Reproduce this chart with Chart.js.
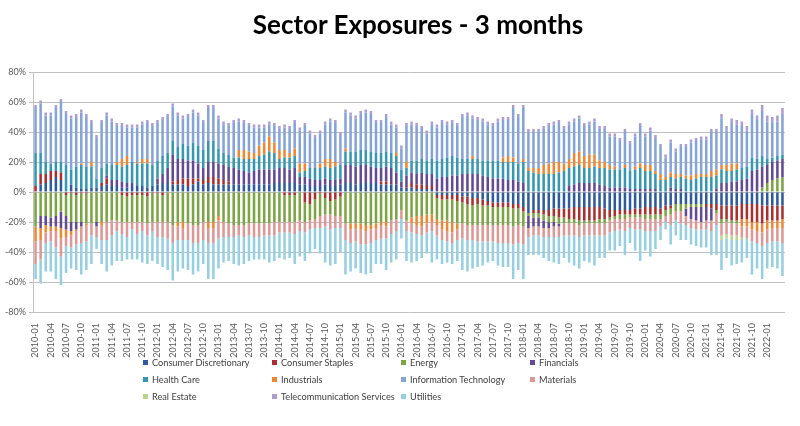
<!DOCTYPE html>
<html>
<head>
<meta charset="utf-8">
<script src="https://cdn.jsdelivr.net/npm/chart.js@4.4.1/dist/chart.umd.min.js"></script>
<style>
  html, body { margin: 0; padding: 0; background: #ffffff; }
  #wrap { position: relative; width: 800px; height: 426px; overflow: hidden; }
  #title { position: absolute; left: 0; top: 8px; width: 836px; text-align: center;
           font: bold 26px Lato, "Open Sans", sans-serif; color: #000; }
  #legend { position: absolute; left: 143px; top: 354px; display: grid;
            grid-template-columns: 129px 129px 129px 129px; grid-auto-rows: 17px;
            font: 9.2px Lato, "Open Sans", sans-serif; color: #404040; }
  .item { display: flex; align-items: center; white-space: nowrap; }
  .sw { width: 5px; height: 5px; margin-right: 4px; flex: none; }
  canvas { position: absolute; left: 0; top: 0; }
</style>
</head>
<body>
<div id="wrap">
  <canvas id="c" width="800" height="426"></canvas>
  <div id="title">Sector Exposures - 3 months</div>
  <div id="legend"></div>
</div>
<script>
// ---------- categories (months) ----------
const months = [
'2010-01','2010-02','2010-03','2010-04','2010-05','2010-06','2010-07','2010-08','2010-09','2010-10','2010-11','2010-12',
'2011-01','2011-02','2011-03','2011-04','2011-05','2011-06','2011-07','2011-08','2011-09','2011-10','2011-11','2011-12',
'2012-01','2012-02','2012-03','2012-04','2012-05','2012-06','2012-07','2012-08','2012-09','2012-10','2012-11','2012-12',
'2013-01','2013-02','2013-03','2013-04','2013-05','2013-06','2013-07','2013-08','2013-09','2013-10','2013-11','2013-12',
'2014-01','2014-02','2014-03','2014-04','2014-05','2014-06','2014-07','2014-08','2014-09','2014-10','2014-11','2014-12',
'2015-01','2015-02','2015-03','2015-04','2015-05','2015-06','2015-07','2015-08','2015-09','2015-10','2015-11','2015-12',
'2016-01','2016-02','2016-03','2016-04','2016-05','2016-06','2016-07','2016-08','2016-09','2016-10','2016-11','2016-12',
'2017-01','2017-02','2017-03','2017-04','2017-05','2017-06','2017-07','2017-08','2017-09','2017-10','2017-11','2017-12',
'2018-01','2018-02','2018-03','2018-04','2018-05','2018-06','2018-07','2018-08','2018-09','2018-10','2018-11','2018-12',
'2019-01','2019-02','2019-03','2019-04','2019-05','2019-06','2019-07','2019-08','2019-09','2019-10','2019-11','2019-12',
'2020-01','2020-02','2020-03','2020-04','2020-05','2020-06','2020-07','2020-08','2020-09','2020-10','2020-11','2020-12',
'2021-01','2021-02','2021-03','2021-04','2021-05','2021-06','2021-07','2021-08','2021-09','2021-10','2021-11','2021-12',
'2022-01','2022-02','2022-03','2022-04'];

// tick labels shown on the x axis (quarterly)
const tickLabels = [
'2010-01','2010-04','2010-07','2010-10','2011-01','2011-04','2011-07','2011-10',
'2012-01','2012-04','2012-07','2012-10','2013-01','2013-04','2013-07','2013-10',
'2014-01','2014-04','2014-07','2014-10','2015-01','2015-04','2015-07','2015-10',
'2016-01','2016-04','2016-07','2016-10','2017-01','2017-04','2017-07','2017-10',
'2018-01','2018-04','2018-07','2018-10','2019-01','2019-04','2019-07','2019-10',
'2020-01','2020-04','2020-07','2020-10','2021-01','2021-04','2021-07','2021-10','2022-01'];

const yTicks = [-80, -60, -40, -20, 0, 20, 40, 60, 80];

// ---------- series values (% of capital) ----------
const consumerDiscretionary = [
0,5,6,8,10,8,0,5,3,2,2,3,
3,4,5,4,4,3,3,4,4,4,3,4,
5,6,6,5,5,5,4,5,7,5,6,5,
5,5,5,5,5,5,5,5,5,5,5,6,
6,6,6,6,5,5,4,4,4,5,4,4,
5,6,6,5,6,6,6,6,5,5,5,5,
3,3,3,2,2,2,2,-2,-2,-2,-2,-2,
-3,-3,-4,-4,-5,-6,-7,-7,-7,-7,-8,-8,
-10,-14,-12,-12,-12,-12,-11,-11,-11,-11,-10,-10,
-10,-10,-10,-10,-11,-12,-12,-12,-12,-12,-11,-11,
-10,-10,-10,-11,-9,-9,-8,-8,-8,-8,-8,-8,
-8,-8,-8,-9,-9,-9,-9,-8,-8,-8,-8,-9,
-9,-9,-9,-9];

const consumerStaples = [
4,7,6,6,4,5,-2,-1,-2,-1,-1,0,
0,2,4,0,0,-2,-3,-2,-2,-2,-3,-1,
-1,-2,0,2,3,4,5,4,2,3,4,5,
4,3,2,0,0,0,0,0,0,0,0,0,
0,-2,-2,-2,0,-7,-8,-5,-1,-4,-6,-5,
-3,0,0,0,0,0,0,0,2,2,1,0,
0,1,3,3,3,2,2,-2,-3,-3,-3,-4,
-4,-5,-5,-4,-4,-3,-3,-3,-3,-3,-3,-3,
-3,0,-2,-2,-3,-4,-5,-6,-6,-7,-8,-9,
-9,-9,-9,-8,-7,-5,-4,-3,-3,-3,-4,-4,
-5,-5,-5,-4,-3,-2,0,0,0,0,0,0,
-2,-3,-4,-9,-9,-10,-10,-10,-10,-12,-12,-12,
-10,-10,-10,-9];

const energy = [
-23,-16,-16,-17,-16,-13,-14,-19,-18,-19,-20,-21,
-20,-20,-20,-19,-19,-18,-17,-18,-18,-18,-18,-19,
-19,-18,-20,-22,-20,-20,-21,-22,-22,-20,-20,-20,
-16,-20,-21,-22,-22,-22,-21,-21,-21,-21,-21,-20,
-20,-18,-18,-18,-19,-13,-11,-13,-15,-11,-9,-11,
-13,-21,-21,-21,-21,-22,-22,-21,-20,-20,-19,-18,
-12,-19,-17,-16,-16,-15,-15,-14,-14,-14,-15,-15,
-14,-14,-13,-14,-13,-13,-12,-12,-12,-12,-12,-11,
-10,-2,-3,-3,-4,-4,-4,-4,-4,-3,-3,-3,
-2,-2,-2,-3,-3,-2,-2,-3,-3,-2,-2,-2,
-3,-3,-3,-3,-4,-4,-5,-5,-3,-2,-2,-2,
0,0,-2,-3,-2,-2,-2,0,0,0,0,3,
6,8,9,10];

const financials = [
0,-8,-6,-6,-7,-11,-9,-6,-5,-3,0,0,
-3,0,2,4,4,4,3,2,0,0,0,0,
4,6,10,18,14,13,12,12,10,8,10,10,
10,10,10,11,10,9,8,9,10,10,10,9,
10,10,9,10,5,5,5,4,4,4,4,4,
4,12,12,12,12,12,11,10,9,10,10,8,
4,7,7,7,8,8,8,9,10,10,11,11,
12,12,12,12,11,10,9,9,9,8,8,7,
6,-8,-6,-6,-5,-4,-3,-2,0,4,5,6,
6,6,6,5,4,3,3,3,3,2,2,2,
2,2,2,0,0,3,2,2,-5,-8,-9,-10,
-9,-8,2,6,6,7,7,8,9,14,15,14,
12,12,12,12];

const healthCare = [
22,14,8,5,6,7,18,10,14,16,15,14,
6,10,8,10,10,10,12,14,15,15,16,14,
12,12,10,9,8,10,10,12,12,12,14,14,
10,8,8,7,8,8,9,8,9,10,12,11,
6,7,8,8,3,4,7,8,8,8,8,9,
9,9,9,10,10,10,10,10,10,10,10,11,
8,5,8,9,9,9,10,12,12,13,13,12,
10,10,10,10,10,11,12,12,11,12,12,12,
14,14,13,12,12,12,12,13,14,12,12,12,
10,10,11,11,12,12,12,12,13,12,13,14,
12,12,10,8,8,7,7,8,9,8,9,10,
10,10,9,9,8,7,8,8,8,9,7,7,
4,3,3,3];

const industrials = [
-10,-8,-5,-3,-3,-7,-5,-3,-1,1,-1,3,
0,-2,0,0,2,5,6,0,1,3,3,0,
0,0,0,0,-3,-4,0,0,0,0,-4,-4,
-3,0,0,0,5,6,5,4,7,8,10,7,
6,5,3,5,6,5,0,0,3,5,6,3,
0,2,-4,-3,-4,-4,-3,-3,-2,-3,0,2,
0,4,-4,-6,-7,-6,-5,-4,-6,-7,-7,-4,
0,0,2,0,0,0,0,0,3,4,3,0,
2,2,3,4,6,7,8,7,5,6,9,9,
8,9,8,5,4,3,2,0,2,0,2,3,
4,4,2,4,2,3,3,2,2,3,3,2,
2,4,4,3,4,5,4,-5,-5,-5,-6,-6,
-6,-5,-5,-6];

const informationTechnology = [
30,33,31,32,36,40,34,34,33,34,33,26,
27,30,32,29,24,22,19,23,23,23,24,26,
25,24,24,23,21,17,19,20,20,18,22,22,
20,19,19,23,19,18,17,17,12,10,8,11,
14,15,16,17,22,25,23,20,20,23,25,26,
20,24,24,22,24,25,25,20,20,23,19,17,
14,24,24,23,20,18,23,22,24,22,22,21,
28,29,25,26,26,24,23,26,25,24,33,31,
34,24,24,24,24,25,25,26,23,23,21,22,
20,20,22,21,22,19,20,19,22,18,20,25,
19,23,22,18,13,20,15,18,19,22,22,23,
23,26,25,31,23,27,26,28,24,29,26,30,
25,23,23,27];

const materials = [
-15,-13,-7,-7,-11,-12,-6,-8,-9,-11,-11,-8,
-7,-10,-12,-10,-7,-8,-10,-5,-8,-6,-8,-6,
-10,-10,-11,-12,-9,-8,-11,-12,-12,-12,-10,-10,
-12,-10,-9,-8,-7,-8,-8,-9,-9,-8,-8,-9,
-7,-7,-7,-8,-7,-7,-6,-6,-8,-8,-10,-8,
-8,-11,-9,-9,-10,-9,-9,-8,-9,-8,-9,-8,
-6,-7,-6,-6,-6,-6,-6,-7,-7,-7,-7,-7,
-10,-10,-10,-11,-11,-11,-11,-12,-12,-12,-12,-12,
-12,-6,-6,-6,-6,-6,-7,-7,-8,-8,-8,-8,
-8,-8,-8,-8,-8,-8,-8,-7,-8,-7,-8,-8,
-8,-8,-8,-5,-4,-7,-6,-8,-6,-6,-6,-5,
-6,-7,-8,-8,-8,-8,-8,-7,-8,-8,-8,-9,
-9,-9,-9,-10];

const realEstate = [
0,0,0,0,0,0,0,0,0,0,0,0,
0,0,0,0,0,0,0,0,0,0,0,0,
0,0,0,0,0,0,0,0,0,0,0,0,
0,0,0,0,0,0,0,0,0,0,0,0,
0,0,0,0,0,0,0,0,0,0,0,0,
0,0,0,0,0,0,0,0,0,0,0,0,
0,0,0,0,0,0,0,0,0,0,0,0,
0,0,0,0,0,0,0,0,0,0,0,0,
0,0,0,0,0,0,0,0,0,0,0,0,
0,0,0,0,0,0,0,0,0,0,0,0,
0,0,0,0,0,0,0,0,0,0,0,0,
0,0,0,-3,-3,-3,-3,-2,0,0,0,0,
0,0,0,0];

const telecomServices = [
2,2,2,2,2,2,2,2,2,2,2,2,
2,2,2,2,2,2,2,2,2,2,2,2,
2,2,2,2,2,2,2,2,2,2,2,2,
2,2,2,2,2,2,2,2,2,2,2,2,
2,2,2,2,2,2,2,2,2,2,2,2,
2,2,2,2,2,2,2,2,2,2,2,2,
2,2,2,2,2,2,2,2,2,2,2,2,
2,2,2,2,2,2,2,2,2,2,2,2,
2,2,2,2,2,2,2,2,2,2,2,2,
2,2,2,2,2,2,2,2,2,2,2,2,
2,2,2,2,2,2,2,2,2,2,2,2,
2,2,2,3,3,3,3,3,3,3,3,4,
4,4,4,4];

const utilities = [
-10,-16,-19,-20,-21,-19,-18,-14,-17,-21,-19,-19,
-8,-16,-21,-20,-20,-18,-15,-20,-17,-21,-19,-20,
-18,-20,-21,-25,-21,-19,-20,-21,-19,-16,-24,-24,
-20,-17,-16,-18,-20,-18,-17,-15,-15,-16,-18,-17,
-17,-18,-17,-20,-17,-19,-16,-14,-17,-24,-24,-24,
-16,-23,-19,-18,-19,-20,-20,-16,-17,-21,-19,-19,
-13,-20,-20,-18,-15,-14,-21,-16,-16,-14,-14,-14,
-21,-21,-19,-17,-16,-14,-13,-15,-16,-16,-23,-18,
-23,-12,-13,-13,-14,-16,-17,-18,-15,-18,-20,-21,
-17,-18,-20,-15,-15,-12,-13,-11,-16,-10,-14,-21,
-13,-17,-12,-9,-5,-13,-10,-11,-10,-11,-11,-12,
-12,-16,-20,-20,-13,-17,-16,-15,-13,-22,-17,-22,
-17,-17,-18,-22];

const seriesNames = ['Consumer Discretionary','Consumer Staples','Energy','Financials',
  'Health Care','Industrials','Information Technology','Materials','Real Estate',
  'Telecommunication Services','Utilities'];
const seriesData = [consumerDiscretionary, consumerStaples, energy, financials, healthCare,
  industrials, informationTechnology, materials, realEstate, telecomServices, utilities];
const seriesColors = ['#2F5B9C','#A8302F','#7CA344','#634A92','#3796B0','#EC8834',
  '#86A3D6','#DC9896','#B8D493','#AC9ECF','#97CFE0'];

const datasets = seriesNames.map((n, k) => ({
  label: n, data: seriesData[k], backgroundColor: seriesColors[k], borderWidth: 0,
  barPercentage: 0.5, categoryPercentage: 1.0, stack: 's'
}));

// HTML legend (4 columns, like the reference)
const leg = document.getElementById('legend');
seriesNames.forEach((n, k) => {
  const d = document.createElement('div'); d.className = 'item';
  const s = document.createElement('span'); s.className = 'sw'; s.style.background = seriesColors[k];
  const t = document.createElement('span'); t.textContent = n;
  d.appendChild(s); d.appendChild(t); leg.appendChild(d);
});

const FONT = 'Lato, "Open Sans", sans-serif';
new Chart(document.getElementById('c'), {
  type: 'bar',
  data: { labels: months, datasets },
  options: {
    responsive: false, animation: false,
    layout: { padding: { top: 72, right: 15, bottom: 68, left: 0 } },
    plugins: { legend: { display: false }, title: { display: false }, tooltip: { enabled: false } },
    scales: {
      x: {
        stacked: true,
        grid: { display: false },
        border: { display: false },
        ticks: {
          autoSkip: false, maxRotation: 90, minRotation: 90, padding: 3,
          color: '#595959', font: { family: FONT, size: 9 },
          callback: function (v, i) { const l = months[i]; return tickLabels.includes(l) ? l : ''; }
        },
        afterFit: function (s) { s.height = 46; }
      },
      y: {
        stacked: true, min: -80, max: 80,
        afterBuildTicks: function (s) { s.ticks = yTicks.map(v => ({ value: v })); },
        grid: { color: '#C0C0C0', lineWidth: 1, tickLength: 4 },
        border: { display: true, color: '#C0C0C0' },
        ticks: { color: '#595959', font: { family: FONT, size: 9 }, padding: 3,
                 callback: v => v + '%' },
        afterFit: function (s) { s.width = 33; }
      }
    }
  }
});
</script>
</body>
</html>
